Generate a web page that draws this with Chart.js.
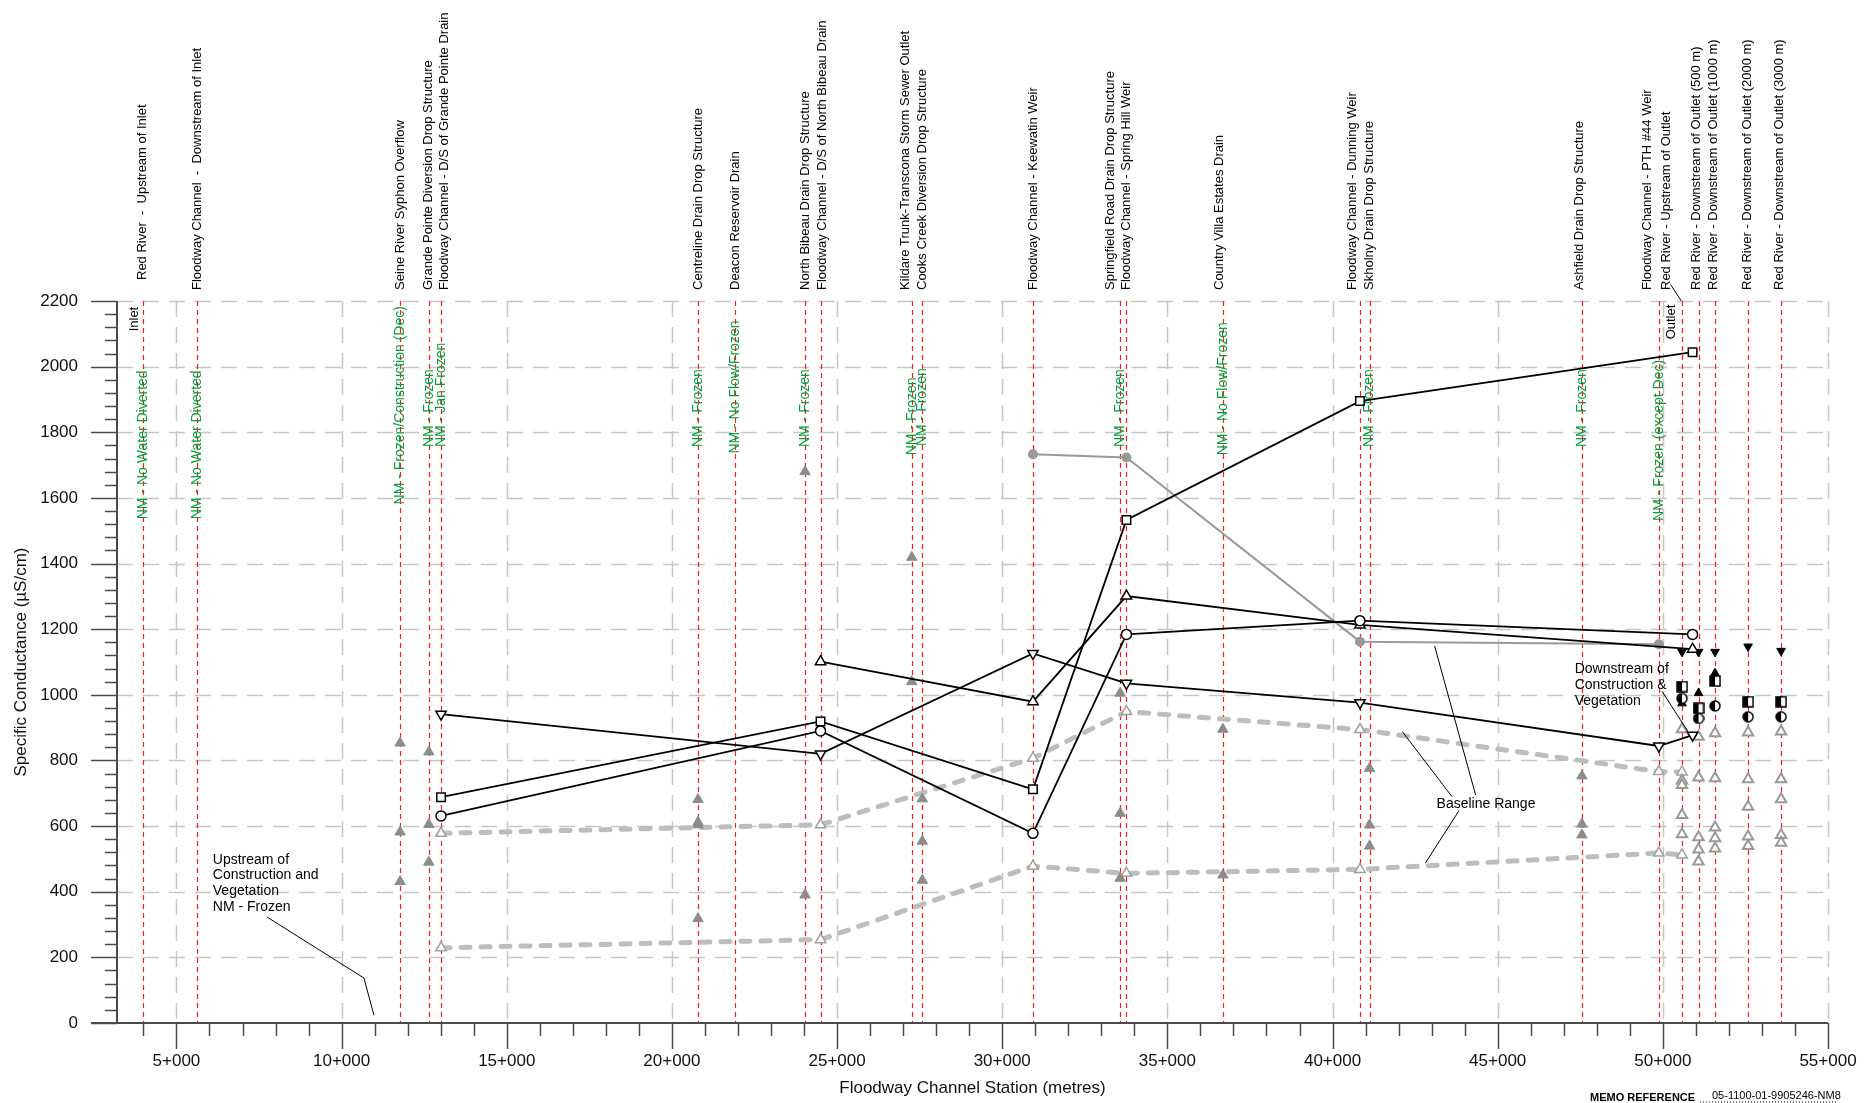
<!DOCTYPE html>
<html>
<head>
<meta charset="utf-8">
<script src="https://cdn.jsdelivr.net/npm/chart.js@4.4.0/dist/chart.umd.min.js"></script>
<style>
html, body { margin: 0; padding: 0; background: #fff; }
#wrap { width: 1865px; height: 1103px; position: relative; }
</style>
</head>
<body>
<div id="wrap"><canvas id="chartCond"></canvas></div>
<script>
// sampling stations along the floodway
const stationNames = [
  'Red River  -  Upstream of Inlet',
  'Floodway Channel  -  Downstream of Inlet',
  'Seine River Syphon Overflow',
  'Grande Pointe Diversion Drop Structure',
  'Floodway Channel - D/S of Grande Pointe Drain',
  'Centreline Drain Drop Structure',
  'Deacon Reservoir Drain',
  'North Bibeau Drain Drop Structure',
  'Floodway Channel - D/S of North Bibeau Drain',
  'Kildare Trunk-Transcona Storm Sewer Outlet',
  'Cooks Creek Diversion Drop Structure',
  'Floodway Channel - Keewatin Weir',
  'Springfield Road Drain Drop Structure',
  'Floodway Channel - Spring Hill Weir',
  'Country Villa Estates Drain',
  'Floodway Channel - Dunning Weir',
  'Skholny Drain Drop Structure',
  'Ashfield Drain Drop Structure',
  'Floodway Channel - PTH #44 Weir',
  'Red River - Upstream of Outlet',
  'Red River - Downstream of Outlet (500 m)',
  'Red River - Downstream of Outlet (1000 m)',
  'Red River - Downstream of Outlet (2000 m)',
  'Red River - Downstream of Outlet (3000 m)'
];
const stationPos = [3980, 5620, 11770, 12640, 13010, 20790, 21910, 24030, 24500, 27260, 27580, 30930,
  33570, 33760, 36680, 40830, 41120, 47550, 49880, 50580, 51080, 51580, 52580, 53580];
const stationNotes = [
  'NM - No Water Diverted', 'NM - No Water Diverted', 'NM - Frozen/Construction (Dec)', 'NM - Frozen',
  'NM - Jan Frozen', 'NM - Frozen', 'NM - No Flow/Frozen', 'NM - Frozen', '', 'NM - Frozen', 'NM - Frozen', '',
  'NM - Frozen', '', 'NM - No Flow/Frozen', '', 'NM - Frozen', 'NM - Frozen', 'NM - Frozen (except Dec)',
  '', '', '', '', ''
];

// monitored series (stations 13+010 ... outlet)
const sampleX = [13010, 24500, 30930, 33760, 40830, 49880, 50900];
const squareVals = [688, 919, 712, 1533, 1895, null, 2044];
const circleVals = [631, 890, 578, 1184, 1226, null, 1184];
const upTriVals = [null, 1101, 979, 1301, 1213, null, 1139];
const downTriVals = [941, 820, 1126, 1035, 976, 844, 877];
const grayCircVals = [null, null, 1733, 1723, 1162, 1154, null];

// baseline range
const baseX = [13010, 24500, 30930, 33760, 40830, 49880, 50580];
const baseUpper = [578, 604, 807, 949, 894, 766, 765];
const baseLower = [229, 254, 478, 456, 468, 518, 512];

// other baseline samples
const grayTriX = [11770, 11770, 11770, 12640, 12640, 12640, 20790, 20790, 20790, 20790, 24030, 24030, 27260, 27260,
  27580, 27580, 27580, 33570, 33570, 33570, 36680, 36680, 41120, 41120, 41120, 47550, 47550, 47550];
const grayTriY = [853, 582, 431, 826, 605, 490, 681, 612, 604, 318, 1680, 390, 1419, 1040,
  683, 554, 435, 1005, 639, 441, 895, 451, 776, 603, 539, 753, 606, 573];
const outTriX = [50580, 50580, 50580, 50580, 50580, 51080, 51080, 51080, 51080, 51080, 51580, 51580, 51580, 51580, 51580,
  52580, 52580, 52580, 52580, 52580, 53580, 53580, 53580, 53580, 53580];
const outTriY = [895, 738, 725, 634, 575, 872, 748, 566, 529, 492, 883, 746, 596, 563, 532,
  885, 743, 659, 568, 539, 888, 743, 682, 573, 549];

// downstream of construction & vegetation
const outX = [50580, 51080, 51580, 52580, 53580];
const outSquare = [1025, 959, 1042, 979, 979];
const outCircle = [989, 928, 966, 933, 933];
const outUp = [974, 1005, 1066, 982, 982];
const outDown = [1131, 1131, 1131, 1147, 1134];

const xTicks = [5000, 10000, 15000, 20000, 25000, 30000, 35000, 40000, 45000, 50000, 55000];
const yTicks = [0, 200, 400, 600, 800, 1000, 1200, 1400, 1600, 1800, 2000, 2200];

// layout only
const labelShift = [[0, -10], [0, 0], [0, 0], [0, 0], [3, 0], [0, 0], [0, 0], [0, 0], [2, 0], [-6, 0], [0, 0], [0, 0],
  [-10, 0], [0, 0], [-3, 0], [-8, 0], [0, 0], [-2, 0], [-11, 0], [-16, 0], [-2, 0], [-2, 0], [-1, 0], [-2, 0]];
const noteBase = [1535, 1535, 1580, 1755, 1755, 1755, 1735, 1755, 0, 1730, 1758, 0, 1755, 0, 1730, 0, 1755, 1755, 1530,
  0, 0, 0, 0, 0];

const FONT = '"Liberation Sans", Arial, sans-serif';

function pts(xs, ys) {
  const out = [];
  xs.forEach((v, i) => { if (ys[i] !== null) out.push({x: v, y: ys[i]}); });
  return out;
}

// half filled marker images (left half black)
function halfMark(kind) {
  const c = document.createElement('canvas');
  c.width = 12; c.height = 12;
  const g = c.getContext('2d');
  g.fillStyle = '#fff';
  g.strokeStyle = '#000';
  g.lineWidth = 1.5;
  g.beginPath();
  if (kind === 'rect') g.rect(1, 1, 10, 10); else g.arc(6, 6, 5, 0, Math.PI * 2);
  g.fill();
  g.save(); g.clip();
  g.fillStyle = '#000';
  g.fillRect(0, 0, 6, 12);
  g.restore();
  g.stroke();
  return c;
}
const halfSquare = halfMark('rect');
const halfCircle = halfMark('circle');

const drawFrame = {
  id: 'drawFrame',
  beforeDatasetsDraw(chart) {
    const {ctx, chartArea: {left, right, top, bottom}, scales: {x, y}} = chart;
    ctx.save();
    // grid
    ctx.strokeStyle = '#c6c6c6';
    ctx.lineWidth = 1.5;
    ctx.setLineDash([16, 10]);
    for (let v = 200; v <= 2200; v += 200) {
      const py = Math.round(y.getPixelForValue(v)) + 0.5;
      ctx.beginPath(); ctx.moveTo(left, py); ctx.lineTo(right, py); ctx.stroke();
    }
    for (let v = 5000; v <= 55000; v += 5000) {
      const px = Math.round(x.getPixelForValue(v)) + 0.5;
      ctx.beginPath(); ctx.moveTo(px, top); ctx.lineTo(px, bottom); ctx.stroke();
    }
    // station lines
    ctx.strokeStyle = '#ff1a1a';
    ctx.lineWidth = 1.2;
    ctx.setLineDash([5, 4]);
    stationPos.forEach(v => {
      const px = Math.round(x.getPixelForValue(v)) + 0.5;
      ctx.beginPath(); ctx.moveTo(px, top); ctx.lineTo(px, bottom); ctx.stroke();
    });
    ctx.setLineDash([]);
    // axes
    ctx.strokeStyle = '#4a4a4a';
    ctx.lineWidth = 2;
    ctx.beginPath(); ctx.moveTo(left, top); ctx.lineTo(left, bottom); ctx.stroke();
    ctx.beginPath(); ctx.moveTo(left - 26, bottom); ctx.lineTo(right, bottom); ctx.stroke();
    ctx.lineWidth = 1.5;
    for (let v = 0; v <= 2200; v += 40) {
      const py = Math.round(y.getPixelForValue(v)) + 0.5;
      const len = v % 200 === 0 ? 26 : 12;
      ctx.beginPath(); ctx.moveTo(left - len, py); ctx.lineTo(left, py); ctx.stroke();
    }
    for (let v = 4000; v <= 55000; v += 1000) {
      const px = Math.round(x.getPixelForValue(v)) + 0.5;
      const len = v % 5000 === 0 ? 26 : 13;
      ctx.beginPath(); ctx.moveTo(px, bottom); ctx.lineTo(px, bottom + len); ctx.stroke();
    }
    // station names
    ctx.fillStyle = '#000';
    ctx.font = '13px ' + FONT;
    ctx.textAlign = 'left';
    ctx.textBaseline = 'middle';
    stationNames.forEach((name, i) => {
      ctx.save();
      ctx.translate(x.getPixelForValue(stationPos[i]) + labelShift[i][0], 290 + labelShift[i][1]);
      ctx.rotate(-Math.PI / 2);
      ctx.fillText(name, 0, 0);
      ctx.restore();
    });
    // not measured notes
    ctx.font = '14px ' + FONT;
    ctx.fillStyle = '#00a03c';
    stationNotes.forEach((note, i) => {
      if (!note) return;
      ctx.save();
      ctx.translate(x.getPixelForValue(stationPos[i]), y.getPixelForValue(noteBase[i]));
      ctx.rotate(-Math.PI / 2);
      ctx.fillText(note, 0, 0);
      ctx.restore();
    });
    ctx.restore();
  },
  afterDatasetsDraw(chart) {
    const {ctx, scales: {x, y}} = chart;
    const X = v => x.getPixelForValue(v), Y = v => y.getPixelForValue(v);
    ctx.save();
    ctx.fillStyle = '#000';
    ctx.strokeStyle = '#000';
    ctx.lineWidth = 1;
    ctx.font = '14px ' + FONT;
    ctx.textAlign = 'left';
    ctx.textBaseline = 'middle';
    ['Upstream of', 'Construction and', 'Vegetation', 'NM - Frozen'].forEach((t, i) => ctx.fillText(t, X(6100), Y(497) + i * 15.7));
    ['Downstream of', 'Construction &', 'Vegetation'].forEach((t, i) => ctx.fillText(t, X(47330), Y(1079) + i * 16));
    ctx.fillText('Baseline Range', X(43150), Y(667));
    const seg = list => {
      ctx.beginPath();
      list.forEach((p, i) => i ? ctx.lineTo(X(p[0]), Y(p[1])) : ctx.moveTo(X(p[0]), Y(p[1])));
      ctx.stroke();
    };
    seg([[7740, 323], [10676, 137], [10978, 24]]);
    seg([[42113, 888], [43614, 690]]);
    seg([[42809, 487], [43829, 647]]);
    seg([[43090, 1149], [44331, 695]]);
    seg([[49980, 1010], [50760, 888]]);
    seg([[50234, 2250], [50560, 2200]]);
    // inlet / outlet tags
    ctx.font = '13px ' + FONT;
    [['Inlet', 3715, 2145], ['Outlet', 50264, 2136]].forEach(([t, vx, vy]) => {
      ctx.save();
      ctx.translate(X(vx), Y(vy));
      ctx.rotate(-Math.PI / 2);
      ctx.textAlign = 'center';
      ctx.fillText(t, 0, 0);
      ctx.restore();
    });
    // memo reference
    ctx.textBaseline = 'alphabetic';
    ctx.font = 'bold 11px ' + FONT;
    ctx.fillText('MEMO REFERENCE', 1590, 1101);
    ctx.font = '11px ' + FONT;
    ctx.fillText('05-1100-01-9905246-NM8', 1712, 1099);
    ctx.setLineDash([1, 2]);
    ctx.beginPath(); ctx.moveTo(1700, 1102); ctx.lineTo(1836, 1102); ctx.stroke();
    ctx.restore();
  }
};

function openSeries(vals, style, radius, rot) {
  return {
    data: pts(sampleX, vals), showLine: true, borderColor: '#000', borderWidth: 1.8,
    pointStyle: style, pointRadius: radius, pointRotation: rot || 0,
    pointBackgroundColor: '#fff', pointBorderColor: '#000', pointBorderWidth: 1.5, order: 1
  };
}
function baseSeries(vals) {
  return {
    data: pts(baseX, vals), showLine: true, borderColor: '#bdbdbd', borderWidth: 5,
    borderDash: [9, 11], borderCapStyle: 'round',
    pointStyle: 'triangle', pointRadius: 6, pointBackgroundColor: '#fff',
    pointBorderColor: '#a0a0a0', pointBorderWidth: 1.5, order: 10
  };
}
function solidMarks(vals, style, rot) {
  return {
    data: pts(outX, vals), showLine: false, pointStyle: style, pointRadius: 5,
    pointRotation: rot || 0, pointBackgroundColor: '#000', pointBorderColor: '#000', pointBorderWidth: 1, order: 2
  };
}

const ctxCond = document.getElementById('chartCond').getContext('2d');
const chartCond = new Chart(ctxCond, {
  type: 'scatter',
  data: {
    datasets: [
      openSeries(squareVals, 'rect', 6),
      openSeries(circleVals, 'circle', 5),
      openSeries(upTriVals, 'triangle', 6),
      openSeries(downTriVals, 'triangle', 6, 180),
      {
        data: pts(sampleX, grayCircVals), showLine: true, borderColor: '#999', borderWidth: 2,
        pointStyle: 'circle', pointRadius: 4, pointBackgroundColor: '#999', pointBorderColor: '#999', order: 5
      },
      baseSeries(baseUpper),
      baseSeries(baseLower),
      {
        data: pts(grayTriX, grayTriY), showLine: false, pointStyle: 'triangle', pointRadius: 6,
        pointBackgroundColor: '#8c8c8c', pointBorderColor: '#8c8c8c', pointBorderWidth: 1, order: 6
      },
      {
        data: pts(outTriX, outTriY), showLine: false, pointStyle: 'triangle', pointRadius: 6,
        pointBackgroundColor: '#fff', pointBorderColor: '#999', pointBorderWidth: 2, order: 6
      },
      solidMarks(outSquare, halfSquare),
      solidMarks(outCircle, halfCircle),
      solidMarks(outUp, 'triangle'),
      solidMarks(outDown, 'triangle', 180)
    ]
  },
  options: {
    responsive: true,
    maintainAspectRatio: false,
    animation: false,
    devicePixelRatio: 1,
    layout: {padding: {left: 0, right: 37, top: 301, bottom: 0}},
    plugins: {legend: {display: false}, tooltip: {enabled: false}},
    scales: {
      x: {
        type: 'linear', min: 3200, max: 55000,
        afterFit: s => { s.height = 80; s.paddingLeft = 0; s.paddingRight = 0; },
        afterBuildTicks: s => { s.ticks = xTicks.map(v => ({value: v})); },
        grid: {display: false, drawTicks: false},
        border: {display: false},
        ticks: {
          callback: v => (v / 1000) + '+000', font: {size: 17, family: FONT}, color: '#111',
          padding: 28, maxRotation: 0, autoSkip: false
        },
        title: {display: true, text: 'Floodway Channel Station (metres)', font: {size: 17, family: FONT}, color: '#111',
          padding: {top: 0, bottom: 4}}
      },
      y: {
        type: 'linear', min: 0, max: 2200,
        afterFit: s => { s.width = 117; s.paddingTop = 0; s.paddingBottom = 0; },
        afterBuildTicks: s => { s.ticks = yTicks.map(v => ({value: v})); },
        grid: {display: false, drawTicks: false},
        border: {display: false},
        ticks: {callback: v => String(v), font: {size: 17, family: FONT}, color: '#111', padding: 39, autoSkip: false},
        title: {display: true, text: 'Specific Conductance (µS/cm)', font: {size: 17, family: FONT}, color: '#111',
          padding: {top: 11, bottom: 0}}
      }
    }
  },
  plugins: [drawFrame]
});
</script>
</body>
</html>
